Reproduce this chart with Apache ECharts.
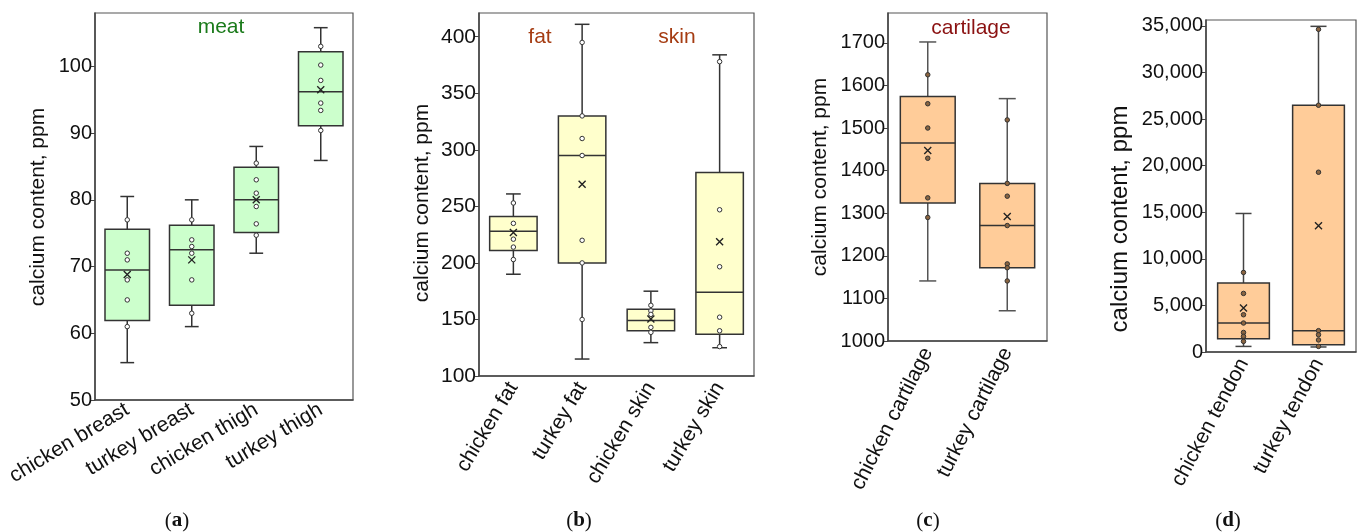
<!DOCTYPE html>
<html>
<head>
<meta charset="utf-8">
<title>calcium content boxplots</title>
<script src="https://cdn.jsdelivr.net/npm/echarts@6/dist/echarts.min.js"></script>
<style>
  html, body { margin: 0; padding: 0; background: #fff; }
  #chart { width: 1363px; height: 532px; }
</style>
</head>
<body>
<div id="chart"></div>
<script>
// (a) meat
const catsA = ["chicken breast", "turkey breast", "chicken thigh", "turkey thigh"];
// [min, Q1, median, Q3, max]
const boxA = [[55.6, 61.9, 69.5, 75.6, 80.5], [61, 64.2, 72.5, 76.2, 80], [72, 75.1, 80, 84.9, 88], [85.9, 91.1, 96.2, 102.2, 105.8]];
const meanA = [68.8, 71, 80, 96.5];
const ptsA = [[77, 72, 71, 68, 65, 61], [77, 74, 73, 72, 68, 63], [85.5, 83, 81, 79, 76.4, 74.7], [103, 100.2, 97.9, 94.5, 93.4, 90.4]];
const ticksA = [50, 60, 70, 80, 90, 100];

// (b) fat & skin
const catsB = ["chicken fat", "turkey fat", "chicken skin", "turkey skin"];
const boxB = [[190, 211, 228, 241, 261], [115, 200, 295, 330, 411], [129.5, 140, 149, 159, 175], [125, 137, 174, 280, 384]];
const meanB = [227, 269.5, 150.4, 218.7];
const ptsB = [[253, 235, 221, 214, 203], [395, 330, 310, 295, 220, 200, 150], [162.5, 157.6, 154.5, 143, 138.6], [378, 247, 196.6, 152, 140, 126]];
const ticksB = [100, 150, 200, 250, 300, 350, 400];

// (c) cartilage
const catsC = ["chicken cartilage", "turkey cartilage"];
const boxC = [[1141, 1324, 1465, 1574, 1702], [1071, 1172, 1271, 1370, 1569]];
const meanC = [1447, 1292];
const ptsC = [[1625, 1557, 1500, 1429, 1336, 1290], [1519, 1370, 1340, 1271, 1181, 1172, 1141]];
const ticksC = [1000, 1100, 1200, 1300, 1400, 1500, 1600, 1700];

// (d) tendon
const catsD = ["chicken tendon", "turkey tendon"];
const boxD = [[600, 1430, 3110, 7400, 14870], [540, 780, 2290, 26490, 34960]];
const meanD = [4720, 13550];
const ptsD = [[8540, 6290, 4000, 3110, 2100, 1680, 1140], [34640, 26490, 19300, 2290, 1850, 1290, 600]];
const ticksD = [0, 5000, 10000, 15000, 20000, 25000, 30000, 35000];

const FONT = "Liberation Sans, Arial, sans-serif";
const LINE = "#444";

const panels = [
  { cats: catsA, box: boxA, mean: meanA, pts: ptsA, ticks: ticksA, fill: "#ccffcc", ptFill: "#fff", whisker: "#333",
    grid: { left: 95, top: 13, width: 258, height: 387 }, min: 50, max: 108, rotate: 31, fs: 20 },
  { cats: catsB, box: boxB, mean: meanB, pts: ptsB, ticks: ticksB, fill: "#ffffcc", ptFill: "#fff", whisker: "#333",
    grid: { left: 479, top: 13, width: 275, height: 363 }, min: 100, max: 421, rotate: 59, fs: 21 },
  { cats: catsC, box: boxC, mean: meanC, pts: ptsC, ticks: ticksC, fill: "#ffcc99", ptFill: "#8a6440", whisker: "#555",
    grid: { left: 888, top: 13, width: 159, height: 328 }, min: 1000, max: 1770, rotate: 63, fs: 20 },
  { cats: catsD, box: boxD, mean: meanD, pts: ptsD, ticks: ticksD, fill: "#ffcc99", ptFill: "#8a6440", whisker: "#444",
    grid: { left: 1206, top: 20, width: 150, height: 332 }, min: 0, max: 35640, rotate: 62, fs: 20, comma: true }
];

function makeRender(fill, whisker) {
  return function (params, api) {
    const i = api.value(0);
    const lo = api.coord([i, api.value(1)]);
    const q1 = api.coord([i, api.value(2)]);
    const md = api.coord([i, api.value(3)]);
    const q3 = api.coord([i, api.value(4)]);
    const hi = api.coord([i, api.value(5)]);
    const bw = api.size([1, 0])[0] * 0.69;
    const cw = bw * 0.31;
    const x = md[0];
    const st = { stroke: whisker, lineWidth: 1.5 };
    return {
      type: "group",
      children: [
        { type: "line", shape: { x1: x, y1: hi[1], x2: x, y2: q3[1] }, style: st },
        { type: "line", shape: { x1: x, y1: q1[1], x2: x, y2: lo[1] }, style: st },
        { type: "line", shape: { x1: x - cw / 2, y1: hi[1], x2: x + cw / 2, y2: hi[1] }, style: st },
        { type: "line", shape: { x1: x - cw / 2, y1: lo[1], x2: x + cw / 2, y2: lo[1] }, style: st },
        { type: "rect", shape: { x: x - bw / 2, y: q3[1], width: bw, height: q1[1] - q3[1] },
          style: { fill: fill, stroke: "#333", lineWidth: 1.5 } },
        { type: "line", shape: { x1: x - bw / 2, y1: md[1], x2: x + bw / 2, y2: md[1] },
          style: { stroke: "#333", lineWidth: 1.5 } }
      ]
    };
  };
}

const grids = [], xAxes = [], yAxes = [], series = [];
panels.forEach(function (p, k) {
  grids.push(Object.assign({ show: true, borderColor: "#555", borderWidth: 1.2, backgroundColor: "transparent" }, p.grid));
  xAxes.push({
    gridIndex: k, type: "category", data: p.cats, boundaryGap: true,
    axisLine: { lineStyle: { color: LINE, width: 1.5 } },
    axisTick: { inside: true, length: 5, lineStyle: { color: LINE } },
    axisLabel: { rotate: p.rotate, fontSize: 21, color: "#111", fontFamily: FONT, margin: 8, interval: 0 }
  });
  yAxes.push({
    gridIndex: k, type: "value", min: p.min, max: p.max,
    splitLine: { show: false },
    axisLine: { show: true, lineStyle: { color: LINE, width: 1.5 } },
    axisTick: { show: true, length: 4, customValues: p.ticks, lineStyle: { color: LINE } },
    axisLabel: {
      fontSize: p.fs, color: "#111", fontFamily: FONT, margin: 3, customValues: p.ticks,
      formatter: function (v) { return p.comma ? Number(v).toLocaleString("en-US") : String(v); }
    }
  });
  series.push({
    type: "custom", xAxisIndex: k, yAxisIndex: k,
    renderItem: makeRender(p.fill, p.whisker),
    encode: { x: 0, y: [1, 2, 3, 4, 5] },
    data: p.box.map(function (b, i) { return [i].concat(b); }),
    z: 2
  });
  const pts = [];
  p.pts.forEach(function (arr, i) { arr.forEach(function (v) { pts.push([i, v]); }); });
  series.push({
    type: "scatter", xAxisIndex: k, yAxisIndex: k, data: pts, symbol: "circle", symbolSize: 4.5,
    itemStyle: { color: p.ptFill, borderColor: "#333", borderWidth: 1, opacity: 1 }, z: 4
  });
  series.push({
    type: "scatter", xAxisIndex: k, yAxisIndex: k,
    data: p.mean.map(function (v, i) { return [i, v]; }),
    symbol: "path://M0,0L10,10M10,0L0,10", symbolSize: 7,
    itemStyle: { color: "none", borderColor: "#222", borderWidth: 1.4, opacity: 1 }, z: 5
  });
});

function yTitle(x, y, size) {
  return {
    type: "text", x: x, y: y, rotation: Math.PI / 2,
    style: { text: "calcium content, ppm", fontSize: size, fontFamily: FONT, fill: "#111",
      align: "center", verticalAlign: "middle" }
  };
}
function tag(x, y, text, color) {
  return {
    type: "text", x: x, y: y,
    style: { text: text, fontSize: 21, fontFamily: FONT, fill: color, align: "center", verticalAlign: "middle" }
  };
}
function sub(x, letter) {
  return {
    type: "text", x: x, y: 521,
    style: {
      text: "{p|(}{b|" + letter + "}{p|)}", align: "center", verticalAlign: "middle",
      rich: {
        p: { fontSize: 21, fontFamily: "Liberation Serif, serif", fill: "#111" },
        b: { fontSize: 21, fontFamily: "Liberation Serif, serif", fontWeight: "bold", fill: "#111" }
      }
    }
  };
}

const chart = echarts.init(document.getElementById("chart"));
chart.setOption({
  animation: false,
  grid: grids,
  xAxis: xAxes,
  yAxis: yAxes,
  series: series,
  graphic: [
    yTitle(38, 207, 21), yTitle(422, 203, 21), yTitle(820, 177, 21), yTitle(1120, 219, 24),
    tag(221, 27, "meat", "#1a7a1a"), tag(540, 37, "fat", "#a53c12"), tag(677, 37, "skin", "#a53c12"),
    tag(971, 28, "cartilage", "#8b1212"),
    sub(177, "a"), sub(579, "b"), sub(928, "c"), sub(1228, "d")
  ]
});
</script>
</body>
</html>
